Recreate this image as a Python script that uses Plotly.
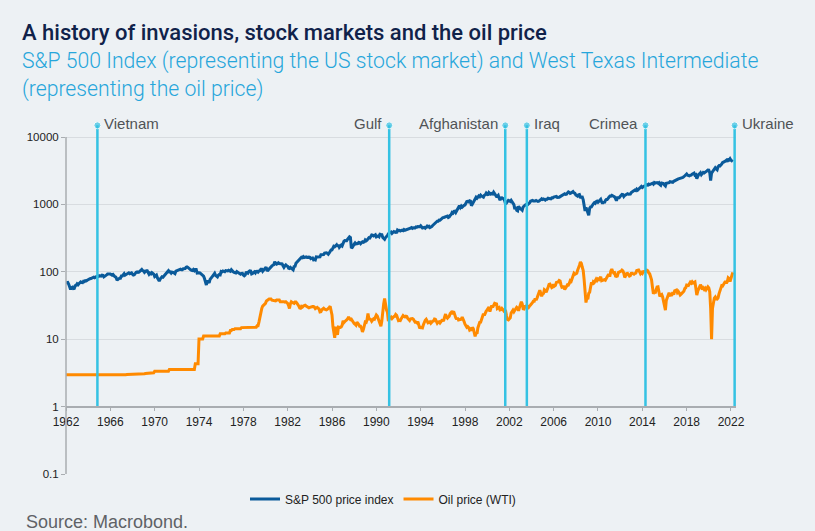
import pandas as pd
import plotly.graph_objects as go

START = "1962-01-01"

# S&P 500 monthly (approx. month-end), Jan 1962 - Mar 2022
sp500 = [
    68.8, 69.96, 69.55, 65.24, 59.63, 54.75, 58.23, 59.12, 56.27, 56.52, 62.26, 63.10,
    66.20, 64.29, 66.57, 69.80, 70.80, 69.37, 69.13, 72.50, 71.70, 74.01, 73.23, 75.02,
    77.04, 77.80, 78.98, 79.46, 80.37, 81.69, 83.18, 81.83, 84.18, 84.86, 84.42, 84.75,
    87.56, 87.43, 86.16, 89.11, 88.42, 84.12, 85.25, 87.17, 89.96, 92.42, 91.61, 92.43,
    92.88, 91.22, 89.23, 91.06, 86.13, 84.74, 83.60, 77.10, 76.56, 80.20, 80.45, 80.33,
    86.61, 86.78, 90.20, 94.01, 89.08, 90.64, 94.75, 93.64, 96.71, 93.90, 94.00, 96.47,
    92.24, 89.36, 90.20, 97.59, 98.68, 99.58, 97.74, 98.86, 102.67, 103.41, 108.37, 103.86,
    103.01, 98.13, 101.51, 103.69, 103.46, 97.71, 91.83, 95.51, 93.12, 97.24, 93.81, 92.06,
    85.02, 89.50, 89.63, 81.52, 76.55, 72.72, 78.05, 81.52, 84.21, 83.25, 87.20, 92.15,
    95.88, 96.75, 100.31, 103.95, 99.63, 99.70, 95.58, 99.03, 98.34, 94.23, 93.99, 102.09,
    103.94, 106.57, 107.20, 107.67, 109.53, 107.14, 107.39, 111.09, 110.55, 111.58, 116.67, 118.05,
    116.03, 111.68, 111.52, 106.97, 104.95, 104.26, 108.22, 104.25, 108.43, 108.29, 95.96, 97.55,
    96.57, 96.22, 93.98, 90.31, 87.28, 86.00, 79.31, 72.15, 63.54, 73.90, 69.97, 68.56,
    76.98, 81.59, 83.36, 87.30, 91.15, 95.19, 88.75, 86.88, 83.87, 89.04, 91.24, 90.19,
    100.86, 99.71, 102.77, 101.64, 100.18, 104.28, 103.44, 102.91, 105.24, 102.90, 102.10, 107.46,
    102.03, 99.82, 98.42, 98.44, 96.12, 100.48, 98.85, 96.77, 96.53, 92.34, 94.83, 95.10,
    89.25, 87.04, 89.21, 96.83, 97.24, 95.53, 100.68, 103.29, 102.54, 93.15, 94.70, 96.11,
    99.93, 96.28, 101.59, 101.76, 99.08, 102.91, 103.81, 109.32, 109.32, 101.82, 106.16, 107.94,
    114.16, 113.66, 102.09, 106.29, 111.24, 114.24, 121.67, 122.38, 125.46, 127.47, 140.52, 135.76,
    129.55, 131.27, 136.00, 132.81, 132.59, 131.21, 130.92, 122.79, 116.18, 121.89, 126.35, 122.55,
    120.40, 113.11, 111.96, 116.44, 111.88, 109.61, 107.09, 119.51, 120.42, 133.71, 138.54, 140.64,
    145.30, 148.06, 152.96, 164.42, 162.39, 168.11, 162.56, 164.40, 166.07, 163.55, 166.40, 164.93,
    163.41, 157.06, 159.18, 160.05, 150.55, 153.18, 150.66, 166.68, 166.10, 166.09, 163.58, 167.24,
    179.63, 181.18, 180.66, 179.83, 189.55, 191.85, 190.92, 188.63, 182.08, 189.82, 202.17, 211.28,
    211.78, 226.92, 238.90, 235.52, 247.35, 250.84, 236.12, 252.93, 231.32, 243.98, 249.22, 242.17,
    274.08, 284.20, 291.70, 288.36, 290.10, 304.00, 318.66, 329.80, 321.83, 225.00, 230.30, 247.08,
    257.07, 267.82, 258.89, 261.33, 262.16, 273.50, 272.02, 261.52, 271.91, 278.97, 273.70, 277.72,
    297.47, 288.86, 294.87, 309.64, 320.52, 317.98, 346.08, 351.45, 349.15, 340.36, 345.99, 353.40,
    329.08, 331.89, 339.94, 330.80, 361.23, 358.02, 356.15, 322.56, 306.05, 304.00, 322.22, 330.22,
    343.93, 367.07, 375.22, 375.35, 389.83, 371.16, 387.81, 395.43, 387.86, 392.46, 375.22, 417.09,
    408.79, 412.70, 403.69, 414.95, 415.35, 408.14, 424.21, 414.03, 417.80, 418.68, 431.35, 435.71,
    438.78, 443.38, 451.67, 440.19, 450.19, 450.53, 448.13, 463.56, 458.93, 467.83, 461.79, 466.45,
    481.61, 467.14, 445.77, 450.91, 456.50, 444.27, 458.26, 475.49, 462.69, 472.35, 453.69, 459.27,
    470.42, 487.39, 500.71, 514.71, 533.40, 544.75, 562.06, 561.88, 584.41, 581.50, 605.37, 615.93,
    636.02, 640.43, 645.50, 654.17, 669.12, 670.63, 639.95, 651.99, 687.33, 705.27, 757.02, 740.74,
    786.16, 790.82, 757.12, 801.34, 848.28, 885.14, 954.31, 899.47, 947.28, 914.62, 955.40, 970.43,
    980.28, 1049.34, 1101.75, 1111.75, 1090.82, 1133.84, 1120.67, 957.28, 1017.01, 1098.67, 1163.63, 1229.23,
    1279.64, 1238.33, 1286.37, 1335.18, 1301.84, 1372.71, 1328.72, 1320.41, 1282.71, 1362.93, 1388.91, 1469.25,
    1394.46, 1366.42, 1498.58, 1452.43, 1420.60, 1454.60, 1430.83, 1517.68, 1436.51, 1429.40, 1314.95, 1320.28,
    1366.01, 1239.94, 1160.33, 1249.46, 1255.82, 1224.42, 1211.23, 1133.58, 1000.00, 1059.78, 1139.45, 1148.08,
    1130.20, 1106.73, 1147.39, 1076.92, 1067.14, 989.82, 850.00, 916.07, 815.28, 800.00, 936.31, 879.82,
    855.70, 841.15, 820.00, 916.92, 963.59, 974.50, 990.31, 1008.01, 995.97, 1050.71, 1058.20, 1111.92,
    1131.13, 1144.94, 1126.21, 1107.30, 1120.68, 1140.84, 1101.72, 1104.24, 1114.58, 1130.20, 1173.82, 1211.92,
    1181.27, 1203.60, 1180.59, 1156.85, 1191.50, 1191.33, 1234.18, 1220.33, 1228.81, 1207.01, 1249.48, 1248.29,
    1280.08, 1280.66, 1294.83, 1310.61, 1270.09, 1270.20, 1276.66, 1303.82, 1335.85, 1377.94, 1400.63, 1418.30,
    1438.24, 1406.82, 1420.86, 1482.37, 1530.62, 1503.35, 1455.27, 1473.99, 1526.75, 1549.38, 1481.14, 1468.36,
    1378.55, 1330.63, 1322.70, 1385.59, 1400.38, 1280.00, 1267.38, 1282.83, 1166.36, 900.00, 800.00, 903.25,
    825.88, 735.09, 690.00, 872.81, 919.14, 919.32, 987.48, 1020.62, 1057.08, 1036.19, 1095.63, 1115.10,
    1073.87, 1104.49, 1169.43, 1186.69, 1089.41, 1030.71, 1101.60, 1049.33, 1141.20, 1183.26, 1180.55, 1257.64,
    1286.12, 1327.22, 1325.83, 1363.61, 1345.20, 1320.64, 1292.28, 1218.89, 1131.42, 1253.30, 1246.96, 1257.60,
    1312.41, 1365.68, 1408.47, 1397.91, 1310.33, 1362.16, 1379.32, 1406.58, 1440.67, 1412.16, 1416.18, 1426.19,
    1498.11, 1514.68, 1569.19, 1597.57, 1630.74, 1606.28, 1685.73, 1632.97, 1681.55, 1756.54, 1805.81, 1848.36,
    1782.59, 1859.45, 1872.34, 1883.95, 1923.57, 1960.23, 1930.67, 2003.37, 1972.29, 2018.05, 2067.56, 2058.90,
    1994.99, 2104.50, 2067.89, 2085.51, 2107.39, 2063.11, 2103.84, 1972.18, 1920.03, 2079.36, 2080.41, 2043.94,
    1940.24, 1880.00, 2059.74, 2065.30, 2096.95, 2098.86, 2173.60, 2170.95, 2168.27, 2126.15, 2198.81, 2238.83,
    2278.87, 2363.64, 2362.72, 2384.20, 2411.80, 2423.41, 2470.30, 2471.65, 2519.36, 2575.26, 2647.58, 2673.61,
    2823.81, 2713.83, 2640.87, 2648.05, 2705.27, 2718.37, 2816.29, 2901.52, 2913.98, 2711.74, 2760.17, 2400.00,
    2704.10, 2784.49, 2834.40, 2945.83, 2752.06, 2941.76, 2980.38, 2926.46, 2976.74, 3037.56, 3140.98, 3230.78,
    3225.52, 2954.22, 2250.00, 2912.43, 3044.31, 3100.29, 3271.12, 3500.31, 3363.00, 3269.96, 3621.63, 3756.07,
    3714.24, 3811.15, 3972.89, 4181.17, 4204.11, 4297.50, 4395.26, 4522.68, 4307.54, 4605.38, 4567.00, 4766.18,
    4515.55, 4373.94, 4300.00,
]

# WTI oil price monthly (USD/bbl), Jan 1962 - Mar 2022
wti = [
    2.97, 2.97, 2.97, 2.97, 2.97, 2.97, 2.97, 2.97, 2.97, 2.97, 2.97, 2.97,
    2.97, 2.97, 2.97, 2.97, 2.97, 2.97, 2.97, 2.97, 2.97, 2.97, 2.97, 2.97,
    2.97, 2.97, 2.97, 2.97, 2.97, 2.97, 2.97, 2.97, 2.97, 2.97, 2.97, 2.97,
    2.92, 2.92, 2.92, 2.92, 2.92, 2.92, 2.92, 2.92, 2.92, 2.92, 2.92, 2.92,
    2.92, 2.92, 2.92, 2.92, 2.92, 2.92, 2.92, 2.92, 2.92, 2.92, 2.92, 2.92,
    2.97, 2.97, 2.97, 2.97, 2.97, 2.97, 3.00, 3.00, 3.00, 3.00, 3.00, 3.00,
    3.07, 3.07, 3.07, 3.07, 3.07, 3.07, 3.07, 3.07, 3.07, 3.07, 3.07, 3.07,
    3.07, 3.07, 3.10, 3.10, 3.18, 3.18, 3.18, 3.18, 3.18, 3.18, 3.18, 3.18,
    3.35, 3.35, 3.35, 3.35, 3.35, 3.35, 3.35, 3.35, 3.35, 3.35, 3.35, 3.35,
    3.35, 3.35, 3.35, 3.35, 3.56, 3.56, 3.56, 3.56, 3.56, 3.56, 3.56, 3.56,
    3.56, 3.56, 3.56, 3.56, 3.56, 3.56, 3.56, 3.56, 3.56, 3.56, 3.56, 3.56,
    3.56, 3.56, 3.56, 3.56, 3.56, 3.56, 3.56, 3.56, 4.31, 4.31, 4.31, 4.31,
    10.11, 10.11, 10.11, 10.11, 10.11, 11.16, 11.16, 11.16, 11.16, 11.16, 11.16, 11.16,
    11.16, 11.16, 11.16, 11.16, 11.16, 11.16, 11.16, 11.16, 11.16, 11.16, 11.16, 12.00,
    12.00, 12.00, 12.00, 12.00, 12.00, 12.40, 12.40, 12.40, 12.40, 12.40, 13.50, 13.50,
    13.90, 13.90, 13.90, 14.30, 14.30, 14.30, 14.30, 14.30, 14.30, 14.30, 14.85, 14.85,
    14.85, 14.85, 14.85, 14.85, 14.85, 14.85, 14.85, 14.85, 14.85, 14.85, 14.85, 14.85,
    14.85, 15.00, 15.00, 15.85, 15.85, 18.10, 22.00, 26.00, 28.50, 31.00, 32.00, 32.50,
    34.00, 37.00, 38.00, 39.50, 39.50, 39.50, 39.50, 38.00, 37.50, 37.00, 37.00, 37.00,
    38.00, 38.50, 38.00, 38.00, 36.00, 36.00, 36.00, 36.50, 36.00, 35.50, 36.00, 35.00,
    33.90, 31.50, 28.50, 33.50, 35.90, 35.10, 34.20, 34.00, 35.60, 35.70, 34.20, 31.70,
    31.20, 29.00, 28.80, 30.60, 30.00, 31.00, 31.70, 31.90, 31.10, 30.40, 29.80, 29.20,
    29.70, 30.10, 30.80, 30.60, 30.50, 29.90, 28.40, 29.60, 29.70, 28.80, 28.00, 25.40,
    25.60, 27.30, 28.20, 28.80, 27.90, 27.20, 27.30, 27.80, 28.30, 29.50, 30.80, 27.20,
    22.90, 15.40, 12.60, 10.50, 15.40, 13.50, 11.60, 15.10, 14.90, 14.90, 15.20, 16.10,
    18.70, 17.70, 18.30, 18.60, 19.40, 20.00, 21.40, 20.30, 19.50, 19.80, 18.90, 17.30,
    17.10, 16.70, 16.20, 17.90, 17.40, 16.50, 15.50, 15.50, 14.50, 12.80, 14.00, 16.30,
    18.00, 17.80, 19.40, 24.00, 20.00, 20.00, 19.60, 18.50, 19.60, 20.10, 19.80, 21.10,
    22.90, 22.10, 20.40, 18.40, 18.20, 15.50, 18.60, 27.20, 33.70, 40.00, 32.30, 27.30,
    25.20, 18.50, 19.90, 20.80, 21.20, 20.20, 21.40, 21.70, 21.90, 23.20, 22.50, 19.50,
    18.80, 19.00, 18.90, 20.20, 20.90, 22.40, 21.80, 21.40, 21.90, 21.70, 20.30, 19.40,
    19.00, 20.10, 20.30, 20.30, 19.90, 19.10, 17.90, 18.00, 17.50, 18.20, 16.70, 14.50,
    15.00, 14.80, 14.70, 16.40, 17.90, 19.10, 19.70, 18.40, 17.50, 17.70, 18.10, 17.20,
    18.00, 18.50, 18.60, 19.90, 19.70, 18.40, 17.30, 18.00, 18.20, 17.40, 18.00, 19.00,
    18.90, 19.10, 21.40, 23.60, 21.30, 20.50, 21.30, 22.00, 24.00, 24.90, 23.70, 25.40,
    25.20, 22.20, 20.90, 19.70, 20.80, 19.30, 19.60, 19.90, 19.80, 21.30, 20.20, 18.30,
    16.70, 16.10, 15.00, 15.40, 14.90, 13.70, 14.10, 13.40, 15.00, 14.40, 12.90, 11.00,
    12.50, 12.00, 14.70, 17.30, 17.80, 17.90, 20.10, 21.30, 23.90, 22.60, 25.00, 26.10,
    27.20, 29.40, 29.90, 25.70, 28.80, 31.80, 29.70, 31.20, 33.90, 33.10, 34.40, 28.50,
    29.60, 29.60, 27.20, 27.40, 28.60, 27.60, 26.40, 27.40, 26.20, 22.20, 19.60, 19.30,
    19.70, 20.70, 24.40, 26.30, 27.00, 25.50, 26.90, 28.40, 29.70, 28.90, 26.30, 29.40,
    32.90, 35.90, 33.60, 28.30, 28.10, 30.70, 30.80, 31.60, 28.30, 30.30, 31.10, 32.10,
    34.30, 34.70, 36.70, 36.70, 40.30, 38.00, 40.70, 44.90, 46.00, 53.10, 48.50, 43.30,
    46.80, 48.00, 54.30, 53.00, 49.80, 56.40, 59.00, 64.90, 65.60, 62.40, 58.30, 59.40,
    65.50, 61.60, 62.90, 69.70, 70.90, 70.90, 74.40, 73.00, 63.80, 58.90, 59.10, 61.90,
    54.60, 59.30, 60.40, 64.00, 63.50, 67.50, 74.10, 72.40, 79.90, 85.80, 94.80, 91.70,
    93.00, 95.40, 105.50, 112.60, 125.40, 140.00, 133.40, 116.70, 104.10, 76.60, 57.30, 35.00,
    41.70, 39.10, 47.90, 49.60, 59.00, 69.60, 64.20, 71.10, 69.40, 75.70, 78.00, 74.50,
    78.30, 76.40, 81.20, 84.30, 73.70, 75.30, 76.30, 76.60, 75.20, 81.90, 84.30, 89.20,
    89.20, 88.60, 102.90, 109.50, 100.90, 96.30, 97.30, 86.30, 85.50, 86.30, 97.20, 98.60,
    100.30, 102.20, 106.20, 103.30, 94.70, 82.30, 87.90, 94.10, 94.50, 89.50, 86.50, 87.90,
    94.80, 95.30, 93.10, 92.00, 94.50, 95.80, 104.60, 106.60, 106.30, 100.50, 93.90, 97.60,
    94.60, 100.80, 100.80, 102.10, 102.20, 105.80, 103.60, 96.50, 93.20, 84.40, 75.80, 59.30,
    47.20, 50.60, 47.80, 54.50, 59.30, 59.80, 50.90, 42.90, 45.50, 46.20, 42.40, 37.20,
    31.70, 27.00, 37.60, 40.80, 46.70, 48.80, 44.70, 44.70, 45.20, 49.80, 45.70, 52.00,
    52.50, 53.50, 49.30, 51.10, 48.50, 45.20, 46.60, 48.00, 49.80, 51.60, 56.60, 57.90,
    63.70, 62.20, 62.70, 66.30, 70.00, 67.90, 71.00, 68.10, 70.20, 70.80, 57.00, 45.00,
    51.40, 54.90, 58.20, 63.90, 60.80, 54.70, 57.40, 54.80, 57.00, 54.00, 57.00, 59.80,
    57.50, 50.50, 29.20, 10.00, 28.60, 38.30, 40.70, 42.30, 39.60, 39.40, 41.00, 47.00,
    52.00, 59.00, 62.40, 61.70, 65.20, 71.40, 72.50, 67.70, 71.60, 81.50, 79.20, 71.70,
    83.20, 91.60, 98.00,
]

event_dates = ["1964-11-01", "1991-03-01", "2001-08-20", "2003-08-01", "2014-04-15", "2022-05-01"]
event_labels = ["Vietnam", "Gulf", "Afghanistan", "Iraq", "Crimea", "Ukraine"]
event_sides = ["right", "left", "left", "right", "left", "right"]

y_ticks = [0.1, 1, 10, 100, 1000, 10000]
y_tick_text = ["0.1", "1", "10", "100", "1000", "10000"]

dates = pd.date_range(START, periods=len(sp500), freq="MS")

BG = "#EDF1F4"
BLUE = "#0A5A9A"
ORANGE = "#FF8A00"
CYAN = "#35C2E3"
FONT = "Liberation Sans, Arial, sans-serif"

YTOP = 4.178  # log10 of plot top

fig = go.Figure()
fig.add_trace(go.Scatter(x=dates, y=sp500, mode="lines", name="S&P 500 price index",
                         line=dict(color=BLUE, width=3)))
fig.add_trace(go.Scatter(x=dates[:len(wti)], y=wti, mode="lines", name="Oil price (WTI)",
                         line=dict(color=ORANGE, width=3)))

for d in event_dates:
    fig.add_trace(go.Scatter(x=[d, d], y=[1, 10 ** (YTOP - 0.005)], mode="lines+markers",
                             line=dict(color=CYAN, width=2.5),
                             marker=dict(size=[0, 7], color=CYAN),
                             cliponaxis=False, showlegend=False, hoverinfo="skip"))

annotations = []
for d, lab, side in zip(event_dates, event_labels, event_sides):
    annotations.append(dict(
        x=d, y=YTOP, xref="x", yref="y", text=lab, showarrow=False,
        xanchor="left" if side == "right" else "right",
        xshift=5 if side == "right" else -5, yshift=2, yanchor="middle",
        font=dict(family=FONT, size=15, color="#505356")))

W, H = 815, 531
L, R, T, B = 66, 79, 125, 57
pw, ph = W - L - R, H - T - B


def px(x):
    return (x - L) / pw


def py(y):
    return (H - B - y) / ph


annotations.append(dict(xref="paper", yref="paper", x=px(20), y=py(32), xanchor="left", yanchor="middle",
                        showarrow=False, text="A history of invasions, stock markets and the oil price",
                        font=dict(family="Roboto, " + FONT, size=22, color="#10224A", weight=500)))
annotations.append(dict(xref="paper", yref="paper", x=px(20), y=py(46), xanchor="left", yanchor="top",
                        showarrow=False, align="left",
                        text="S&P 500 Index (representing the US stock market) and West Texas Intermediate<br>(representing the oil price)",
                        font=dict(family="Roboto, " + FONT, size=21.2, color="#27A6DB", weight=300)))
annotations.append(dict(xref="paper", yref="paper", x=px(24), y=py(522), xanchor="left", yanchor="middle",
                        showarrow=False, text="Source: Macrobond.",
                        font=dict(family=FONT, size=18, color="#5f6266")))

fig.update_layout(
    width=W, height=H,
    margin=dict(l=L, r=R, t=T, b=B),
    paper_bgcolor=BG, plot_bgcolor=BG,
    font=dict(family=FONT, size=12, color="#222222"),
    showlegend=True,
    legend=dict(orientation="h", x=px(383), xanchor="center", y=py(499), yanchor="middle",
                font=dict(size=12, color="#222222"), bgcolor="rgba(0,0,0,0)",
                itemwidth=30, tracegroupgap=0),
    annotations=annotations,
    shapes=[dict(type="line", xref="paper", yref="y", x0=0, x1=0, y0=0.1, y1=10000,
                 line=dict(color="#A9ADB1", width=1.5), layer="above")],
    xaxis=dict(type="date", range=["1962-01-01", "2022-06-15"], tick0="1962-01-01", dtick="M48",
               tickformat="%Y", showgrid=False, showline=True, linecolor="#A9ADB1", linewidth=1.5,
               ticks="outside", ticklen=4, tickcolor="#A9ADB1", anchor="free", position=1 / (YTOP + 1),
               tickfont=dict(size=12, color="#222222"), zeroline=False),
    yaxis=dict(type="log", range=[-1, YTOP], tickvals=y_ticks, ticktext=y_tick_text,
               showgrid=True, gridcolor="#D8DCE0", gridwidth=1, showline=False,
               ticks="outside", ticklen=4, tickcolor="#A9ADB1",
               tickfont=dict(size=11.5, color="#222222"), zeroline=False),
)

fig.write_html("out.html", config={"displayModeBar": False},
               post_script="document.body.style.margin='0';document.body.style.background='%s';" % BG)
